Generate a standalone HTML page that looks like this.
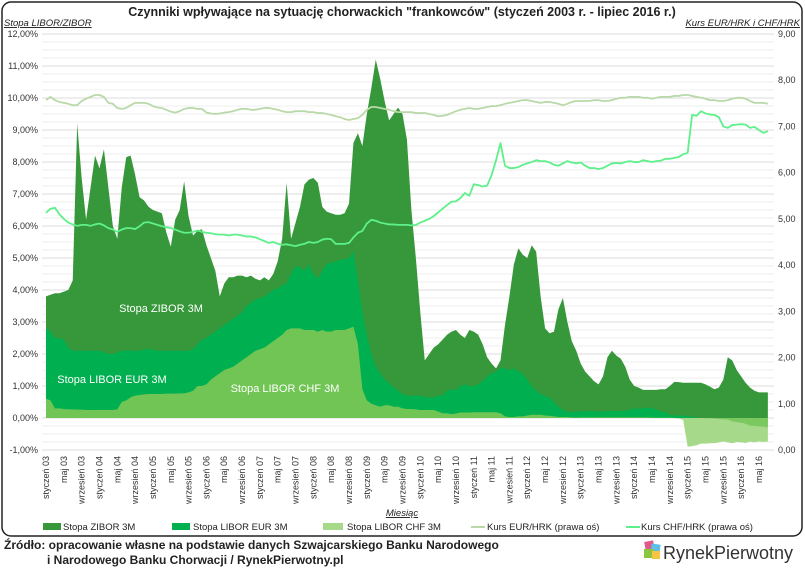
<!DOCTYPE html>
<html><head><meta charset="utf-8">
<style>
html,body{margin:0;padding:0;background:#fff;}
body{width:805px;height:568px;overflow:hidden;font-family:"Liberation Sans Narrow","Liberation Sans",sans-serif;}
svg text{font-family:"Liberation Sans Narrow","Liberation Sans",sans-serif;}
</style></head>
<body>
<svg id="chart" width="805" height="568" viewBox="0 0 805 568" xmlns="http://www.w3.org/2000/svg">
<rect x="2" y="2" width="800" height="534" rx="9" fill="#fff" stroke="#222" stroke-width="1.5"/>
<text x="402" y="16" text-anchor="middle" font-size="12.5" font-weight="bold" fill="#222">Czynniki wpływające na sytuację chorwackich "frankowców" (styczeń 2003 r. - lipiec 2016 r.)</text>
<text x="4" y="26" font-size="9.5" font-style="italic" text-decoration="underline" fill="#222">Stopa LIBOR/ZIBOR</text>
<text x="800" y="26" text-anchor="end" font-size="9.5" font-style="italic" text-decoration="underline" fill="#222">Kurs EUR/HRK i CHF/HRK</text>
<g id="grid"></g><g id="areas"></g><g id="lines"></g><g id="axes"></g>
<text x="161" y="312" text-anchor="middle" font-size="11" fill="#fff">Stopa ZIBOR 3M</text>
<text x="112" y="383" text-anchor="middle" font-size="11" fill="#fff">Stopa LIBOR EUR 3M</text>
<text x="285" y="392" text-anchor="middle" font-size="11" fill="#fff">Stopa LIBOR CHF 3M</text>
<text x="402" y="516" text-anchor="middle" font-size="9.5" font-style="italic" text-decoration="underline" fill="#222">Miesiąc</text>
<g>
<rect x="43" y="523" width="18" height="7" fill="#36983a"/>
<text x="63" y="530" font-size="9.5" fill="#222">Stopa ZIBOR 3M</text>
<rect x="172" y="523" width="18" height="7" fill="#00b050"/>
<text x="193" y="530" font-size="9.5" fill="#222">Stopa LIBOR EUR 3M</text>
<rect x="323" y="523" width="20" height="7" fill="#a6d98a"/>
<text x="347" y="530" font-size="9.5" fill="#222">Stopa LIBOR CHF 3M</text>
<line x1="471" y1="527" x2="485" y2="527" stroke="#b9d9a9" stroke-width="2"/>
<text x="487" y="530" font-size="9.5" fill="#222">Kurs EUR/HRK (prawa oś)</text>
<line x1="626" y1="527" x2="640" y2="527" stroke="#5ef08a" stroke-width="2"/>
<text x="641" y="530" font-size="9.5" fill="#222">Kurs CHF/HRK (prawa oś)</text>
</g>
<text x="4" y="549" font-size="12" font-weight="bold" fill="#222">Źródło: opracowanie własne na podstawie danych Szwajcarskiego Banku Narodowego</text>
<text x="47" y="564" font-size="12" font-weight="bold" fill="#222">i Narodowego Banku Chorwacji / RynekPierwotny.pl</text>
<g>
<rect x="645" y="541" width="9" height="9" fill="#e05a8a" transform="rotate(-10 650 546)"/>
<rect x="651" y="544" width="9" height="10" fill="#5cc0e8" transform="rotate(8 655 549)"/>
<rect x="644" y="549" width="10" height="9" fill="#8cc63f"/>
<rect x="652" y="551" width="8" height="8" fill="#f6c342"/>
<text x="663" y="559" font-size="18" fill="#333">RynekPierwotny</text>
</g>
</svg>
<script>
const months = Array.from({length:163},(_,i)=>i);
const xTickLabels = ["styczeń 03","maj 03","wrzesień 03","styczeń 04","maj 04","wrzesień 04","styczeń 05","maj 05","wrzesień 05","styczeń 06","maj 06","wrzesień 06","styczeń 07","maj 07","wrzesień 07","styczeń 08","maj 08","wrzesień 08","styczeń 09","maj 09","wrzesień 09","styczeń 10","maj 10","wrzesień 10","styczeń 11","maj 11","wrzesień 11","styczeń 12","maj 12","wrzesień 12","styczeń 13","maj 13","wrzesień 13","styczeń 14","maj 14","wrzesień 14","styczeń 15","maj 15","wrzesień 15","styczeń 16","maj 16"];
const leftTicks = [-1,0,1,2,3,4,5,6,7,8,9,10,11,12];
const rightTicks = [0,1,2,3,4,5,6,7,8,9];
const zibor = [3.8,3.85,3.9,3.9,3.95,4.0,4.3,9.2,7.5,6.2,7.2,8.2,
7.8,8.4,7.2,6.0,5.6,7.2,8.15,8.2,7.6,6.9,6.8,6.6,
6.5,6.45,6.4,5.8,5.35,6.2,6.5,7.4,6.3,5.7,5.85,5.9,
5.4,5.0,4.6,3.8,4.2,4.4,4.4,4.45,4.45,4.4,4.45,4.35,
4.3,4.4,4.3,4.5,4.9,5.6,7.35,5.6,6.1,6.6,7.3,7.45,
7.5,7.35,6.6,6.45,6.4,6.35,6.35,6.4,6.7,8.6,8.9,8.5,
9.5,10.3,11.2,10.6,9.9,9.3,9.5,9.7,9.5,8.7,6.5,5.0,
3.3,1.8,2.0,2.2,2.3,2.45,2.6,2.7,2.75,2.6,2.5,2.75,
2.7,2.6,2.3,1.9,1.7,1.55,1.8,2.9,3.8,4.8,5.3,5.1,
5.0,5.4,5.2,3.8,2.8,2.65,2.7,3.4,3.75,3.0,2.4,2.1,
1.7,1.45,1.3,1.15,1.05,1.3,1.9,2.1,1.95,1.85,1.6,1.2,
1.0,0.95,0.88,0.88,0.88,0.88,0.9,0.9,1.0,1.13,1.12,1.1,
1.1,1.1,1.1,1.1,1.05,0.98,0.9,0.95,1.2,1.9,1.8,1.5,
1.3,1.1,0.95,0.85,0.8,0.8,0.8];
const liborEur = [2.8,2.7,2.5,2.5,2.45,2.2,2.1,2.1,2.1,2.1,2.1,2.1,
2.1,2.05,2.0,2.0,2.05,2.1,2.1,2.1,2.1,2.1,2.15,2.15,
2.15,2.1,2.1,2.1,2.1,2.1,2.1,2.1,2.1,2.15,2.3,2.45,
2.5,2.6,2.7,2.8,2.9,3.0,3.1,3.2,3.3,3.5,3.6,3.7,
3.75,3.8,3.9,4.0,4.05,4.15,4.2,4.5,4.75,4.7,4.6,4.8,
4.5,4.35,4.6,4.8,4.85,4.9,4.95,4.95,5.0,5.2,4.3,3.3,
2.6,2.0,1.6,1.4,1.2,1.1,0.95,0.85,0.75,0.7,0.7,0.7,
0.7,0.65,0.65,0.65,0.7,0.7,0.85,0.9,0.88,1.0,1.05,1.0,
1.0,1.05,1.15,1.3,1.4,1.45,1.55,1.55,1.5,1.55,1.45,1.4,
1.2,1.0,0.85,0.75,0.68,0.65,0.5,0.35,0.25,0.2,0.19,0.19,
0.2,0.22,0.21,0.21,0.2,0.2,0.22,0.22,0.22,0.22,0.22,0.27,
0.29,0.29,0.3,0.32,0.32,0.25,0.2,0.19,0.09,0.08,0.08,0.08,
0.05,0.04,0.02,0.0,-0.01,-0.01,-0.02,-0.03,-0.04,-0.05,-0.1,-0.13,
-0.15,-0.18,-0.24,-0.25,-0.26,-0.27,-0.3];
const liborChf = [0.6,0.55,0.3,0.3,0.28,0.27,0.27,0.26,0.26,0.25,0.25,0.25,
0.25,0.25,0.25,0.25,0.27,0.5,0.55,0.65,0.7,0.72,0.74,0.75,
0.75,0.75,0.75,0.76,0.76,0.76,0.77,0.77,0.8,0.85,1.0,1.0,
1.05,1.2,1.3,1.4,1.5,1.55,1.6,1.7,1.8,1.9,2.0,2.1,
2.15,2.2,2.3,2.4,2.5,2.6,2.75,2.8,2.8,2.8,2.75,2.75,
2.75,2.7,2.75,2.7,2.7,2.75,2.75,2.75,2.8,2.85,2.3,0.9,
0.55,0.45,0.4,0.35,0.4,0.4,0.35,0.35,0.3,0.28,0.28,0.27,
0.25,0.25,0.25,0.25,0.2,0.15,0.15,0.12,0.14,0.17,0.17,0.17,
0.18,0.18,0.18,0.18,0.18,0.18,0.15,0.05,0.03,0.03,0.05,0.05,
0.08,0.1,0.1,0.1,0.08,0.07,0.05,0.03,0.03,0.03,0.02,0.01,
0.02,0.02,0.02,0.02,0.02,0.02,0.02,0.02,0.02,0.02,0.02,0.02,
0.02,0.02,0.02,0.02,0.01,0.01,0.01,0.01,0.01,0.0,-0.02,-0.06,
-0.9,-0.88,-0.85,-0.8,-0.8,-0.79,-0.79,-0.76,-0.73,-0.76,-0.79,-0.75,
-0.76,-0.78,-0.74,-0.76,-0.73,-0.75,-0.74];
const eurHrk = [7.57,7.64,7.57,7.53,7.51,7.49,7.46,7.46,7.55,7.6,7.64,7.68,
7.68,7.64,7.51,7.49,7.4,7.38,7.4,7.46,7.51,7.51,7.51,7.49,
7.44,7.41,7.4,7.36,7.32,7.3,7.33,7.38,7.4,7.4,7.38,7.38,
7.3,7.28,7.27,7.28,7.3,7.31,7.33,7.36,7.38,7.38,7.36,7.36,
7.38,7.4,7.4,7.38,7.36,7.33,7.31,7.31,7.33,7.33,7.33,7.31,
7.31,7.29,7.29,7.27,7.25,7.22,7.2,7.16,7.14,7.16,7.18,7.25,
7.36,7.42,7.42,7.4,7.38,7.36,7.33,7.31,7.31,7.31,7.31,7.29,
7.29,7.29,7.27,7.25,7.22,7.23,7.25,7.29,7.33,7.36,7.38,7.4,
7.38,7.38,7.4,7.42,7.44,7.44,7.46,7.49,7.51,7.53,7.55,7.57,
7.57,7.55,7.53,7.51,7.53,7.53,7.51,7.49,7.46,7.49,7.53,7.55,
7.55,7.55,7.55,7.57,7.57,7.55,7.55,7.57,7.6,7.62,7.62,7.64,
7.64,7.64,7.62,7.62,7.6,7.62,7.64,7.64,7.64,7.66,7.66,7.68,
7.68,7.66,7.64,7.62,7.6,7.57,7.57,7.55,7.55,7.57,7.6,7.62,
7.62,7.6,7.55,7.51,7.51,7.51,7.49];
const chfHrk = [5.13,5.22,5.24,5.1,5.0,4.92,4.88,4.85,4.87,4.87,4.85,4.88,
4.9,4.86,4.8,4.77,4.72,4.77,4.8,4.8,4.78,4.84,4.92,4.93,
4.9,4.87,4.84,4.82,4.8,4.77,4.73,4.7,4.7,4.72,4.75,4.72,
4.7,4.69,4.67,4.66,4.66,4.64,4.66,4.66,4.64,4.62,4.62,4.6,
4.56,4.52,4.48,4.5,4.46,4.44,4.45,4.43,4.41,4.44,4.46,4.5,
4.48,4.5,4.55,4.57,4.56,4.46,4.46,4.46,4.48,4.6,4.7,4.74,
4.9,4.98,4.96,4.92,4.9,4.88,4.88,4.87,4.87,4.87,4.86,4.87,
4.92,4.96,5.0,5.06,5.14,5.22,5.3,5.37,5.38,5.45,5.56,5.5,
5.75,5.73,5.7,5.72,5.95,6.27,6.64,6.15,6.1,6.1,6.12,6.17,
6.2,6.23,6.27,6.25,6.25,6.22,6.17,6.15,6.2,6.25,6.22,6.2,
6.22,6.15,6.1,6.1,6.08,6.1,6.15,6.2,6.21,6.2,6.23,6.25,
6.23,6.23,6.27,6.25,6.23,6.25,6.26,6.3,6.3,6.32,6.34,6.4,
6.43,7.25,7.23,7.33,7.28,7.26,7.25,7.2,7.0,6.97,7.03,7.04,
7.05,7.04,6.97,6.99,6.92,6.86,6.9];

const NS="http://www.w3.org/2000/svg";
const X0=46, DX=4.456;
const xS = m => X0 + m*DX;
const yL = v => 418 - v*32;
const yR = v => 450 - v*(416/9);
function mk(tag, attrs, parent){const e=document.createElementNS(NS,tag);for(const k in attrs)e.setAttribute(k,attrs[k]);document.getElementById(parent).appendChild(e);return e;}

// grid
for(let v=-1; v<=12.001; v+=0.25){
  const major = Math.abs(v-Math.round(v))<1e-6;
  const g = mk('line',{x1:42,x2:774,y1:yL(v),y2:yL(v),stroke:major?'#dcdcdc':'#efefef','stroke-width':1},'grid');
  
  
}
// areas
function area(vals, fn, color, name){
  let d='M'+xS(0)+','+yL(0);
  vals.forEach((v,i)=>{d+=' L'+xS(i).toFixed(2)+','+yL(fn(v)).toFixed(2);});
  d+=' L'+xS(vals.length-1)+','+yL(0)+' Z';
  const p=mk('path',{d:d,fill:color},'areas');
  
  
}
area(zibor, v=>v, '#36983a', 'zibor-area');
area(liborEur, v=>Math.max(v,0), '#00b050', 'libor-eur-area');
area(liborChf, v=>Math.max(v,0), '#70c554', 'libor-chf-area');
area(liborChf, v=>Math.min(v,0), '#a6d98a', 'libor-chf-negative-area');
area(liborEur, v=>Math.min(v,0), '#7cc860', 'libor-eur-negative-area');
// lines
function line(vals, color, name){
  const pts=vals.map((v,i)=>xS(i).toFixed(2)+','+yR(v).toFixed(2)).join(' ');
  const p=mk('polyline',{points:pts,fill:'none',stroke:color,'stroke-width':1.8,'stroke-linejoin':'round'},'lines');
  
  
}
line(eurHrk, '#b9d9a9', 'eur-hrk-line');
line(chfHrk, '#5ef08a', 'chf-hrk-line');
// axes labels
leftTicks.forEach(v=>{
  const t=mk('text',{x:38,y:yL(v)+3,'text-anchor':'end','font-size':9,fill:'#333'},'axes');
  t.textContent=v.toFixed(2).replace('.',',')+'%';
  
  
});
rightTicks.forEach(v=>{
  const t=mk('text',{x:778,y:yR(v)+3,'font-size':9,fill:'#333'},'axes');
  t.textContent=v.toFixed(2).replace('.',',');
  
  
});
xTickLabels.forEach((s,i)=>{
  const x=xS(i*4)+3, y=456;
  const t=mk('text',{x:x,y:y,'text-anchor':'end','font-size':9,fill:'#333',transform:'rotate(-90 '+x+' '+y+')'},'axes');
  t.textContent=s;
  
  
});
</script>
</body></html>
